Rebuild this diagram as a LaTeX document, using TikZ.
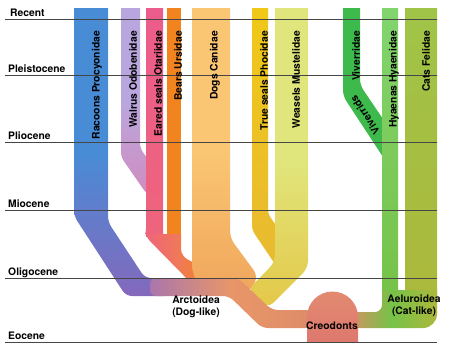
\documentclass[tikz,border=0pt]{standalone}
\usepackage{fontspec}
\setmainfont{TeX Gyre Heros}
\usepackage{tikz}
\definecolor{racoon}{RGB}{72,140,214}
\definecolor{racoonlow}{RGB}{132,104,188}
\definecolor{walrus}{RGB}{186,166,222}
\definecolor{walruslow}{RGB}{208,140,190}
\definecolor{otaria}{RGB}{236,92,140}
\definecolor{otarialow}{RGB}{238,100,124}
\definecolor{ursus}{RGB}{242,132,32}
\definecolor{arcto}{RGB}{240,120,90}
\definecolor{canis}{RGB}{250,198,116}
\definecolor{canislow}{RGB}{240,166,92}
\definecolor{phoca}{RGB}{240,200,24}
\definecolor{phocalow}{RGB}{232,186,50}
\definecolor{mustela}{RGB}{224,230,124}
\definecolor{mustelalow}{RGB}{228,200,72}
\definecolor{viverra}{RGB}{62,186,76}
\definecolor{hyaena}{RGB}{130,212,110}
\definecolor{hyaenalow}{RGB}{118,194,72}
\definecolor{felis}{RGB}{160,196,72}
\definecolor{felislow}{RGB}{172,184,60}
\definecolor{stemA}{RGB}{170,118,172}
\definecolor{stemB}{RGB}{232,150,104}
\definecolor{stemC}{RGB}{222,140,104}
\definecolor{creodont}{RGB}{226,138,112}
\definecolor{creodontlow}{RGB}{222,120,110}
\definecolor{epochline}{RGB}{70,70,70}

\begin{document}
\begin{tikzpicture}[
            x=0.03cm, y=-0.03cm,
            epoch/.style={draw=epochline, line width=0.8pt},
            era/.style={font=\fontsize{8.8}{10}\selectfont\bfseries, anchor=base west, inner sep=0pt},
            tag/.style={font=\fontsize{8.8}{10}\selectfont\bfseries, rotate=90, anchor=east, inner sep=0pt},
            group/.style={font=\fontsize{8.8}{10.5}\selectfont\bfseries, align=center, inner sep=0pt}
        ]
            \useasboundingbox (0,0) rectangle (450,359);

            % dog-like branches
            \shade[top color=racoon, bottom color=racoonlow, middle color=racoon] (74,8) -- (108,8) -- (108,200) [rounded corners=5pt] -- (108,222) -- (145,278) -- (170,278) -- (170,296) -- (126,296) -- (74,216) -- (74,200) [sharp corners] -- cycle;
            \shade[top color=walrus, bottom color=walruslow, middle color=walrus] (121,8) -- (140,8) -- (140,140) [rounded corners=4pt] -- (140,148) -- (152,165) -- (152,196) -- (146,193) -- (121,157) -- (121,140) [sharp corners] -- cycle;
            \shade[top color=otaria, bottom color=otarialow] (146,8) rectangle (163,236);
            \fill[ursus] (167,8) rectangle (181,236);
            \shade[left color=otarialow, right color=ursus, middle color=arcto] (145,234) -- (181,234) -- (181,248) [rounded corners=6pt] -- (181,256) -- (200,266) -- (210,288) -- (196,288) -- (145,236) [sharp corners] -- cycle;
            \shade[top color=canis, bottom color=canislow, middle color=canis] (192,8) -- (230,8) -- (230,225) [rounded corners=6pt] -- (230,238) -- (258,276) -- (250,292) -- (200,292) -- (192,270) [sharp corners] -- (192,250) -- cycle;
            \shade[top color=phoca, bottom color=phocalow] (252,8) -- (268,8) -- (268,200) [rounded corners=4pt] -- (268,214) -- (285,238) -- (285,270) -- (279,270) -- (252,230) [sharp corners] -- (252,210) -- cycle;
            \shade[top color=mustela, bottom color=mustelalow, middle color=mustela] (275,8) -- (308,8) -- (308,250) [rounded corners=6pt] -- (308,268) -- (268,308) -- (248,290) -- (275,262) [sharp corners] -- (275,250) -- cycle;
            \shade[left color=stemA, right color=stemC, middle color=stemB, rounded corners=5pt] (150,278) -- (238,278) -- (272,310) -- (312,310) -- (312,328) -- (262,328) -- (229,296) -- (150,296) -- cycle;

            % cat-like branches
            \fill[viverra] (343,8) -- (360,8) -- (360,70) [rounded corners=5pt] -- (360,85) -- (385,122) -- (385,160) -- (343,96) [sharp corners] -- (343,80) -- cycle;
            \shade[top color=hyaena, bottom color=hyaenalow] (382,8) rectangle (398,300);
            \shade[top color=felis, bottom color=felislow] (405,8) rectangle (437,300);
            \shade[left color=stemC, right color=felislow, middle color=hyaenalow] (382,290) -- (437,290) -- (437,296) [rounded corners=12pt] -- (437,328) -- (345,328) [sharp corners] -- (345,312) [rounded corners=6pt] -- (382,312) -- (382,296) [sharp corners] -- cycle;

            % common root
            \shade[top color=creodont, bottom color=creodontlow] (307,342) -- (307,317) arc[start angle=180, end angle=0, radius=0.765cm] -- (358,342) -- cycle;

            % epochs
            \draw[epoch] (5,19) -- (437,19);
            \draw[epoch] (5,75) -- (437,75);
            \draw[epoch] (5,142) -- (437,142);
            \draw[epoch] (5,210) -- (437,210);
            \draw[epoch] (5,278) -- (437,278);
            \draw[epoch] (5,342) -- (437,342);
            \node[era] (recent) at (10,16.5) {Recent};
            \node[era] (pleistocene) at (8,72.5) {Pleistocene};
            \node[era] (pliocene) at (8,139.5) {Pliocene};
            \node[era] (miocene) at (8,207.5) {Miocene};
            \node[era] (oligocene) at (8,275.5) {Oligocene};
            \node[era] (eocene) at (8,339.5) {Eocene};

            % families
            \node[tag] (procyon) at (97,31) {Racoons Procyonidae};
            \node[tag] (odobenus) at (133,31) {Walrus Odobenidae};
            \node[tag] (otaria) at (158,31) {Eared seals Otariidae};
            \node[tag] (ursus) at (178,31) {Bears Ursidae};
            \node[tag] (canis) at (215,31) {Dogs Canidae};
            \node[tag] (phoca) at (264,31) {True seals Phocidae};
            \node[tag] (mustela) at (296,31) {Weasels Mustelidae};
            \node[tag] (viverra) at (356,31) {Viverridae};
            \node[tag] (hyaena) at (394,31) {Hyaenas Hyaenidae};
            \node[tag] (felis) at (426,31) {Cats Felidae};
            \node[font=\fontsize{8.8}{10}\selectfont\bfseries, rotate=124, inner sep=0pt] (viverrids) at (365,115) {Viverrids};

            % groups
            \node[group] (arctoidea) at (196,307) {Arctoidea\\(Dog-like)};
            \node[group] (aeluroidea) at (414,306) {Aeluroidea\\(Cat-like)};
            \node[font=\fontsize{8.8}{10}\selectfont\bfseries, inner sep=0pt] (creodonts) at (332,326) {Creodonts};
        \end{tikzpicture}
\end{document}
